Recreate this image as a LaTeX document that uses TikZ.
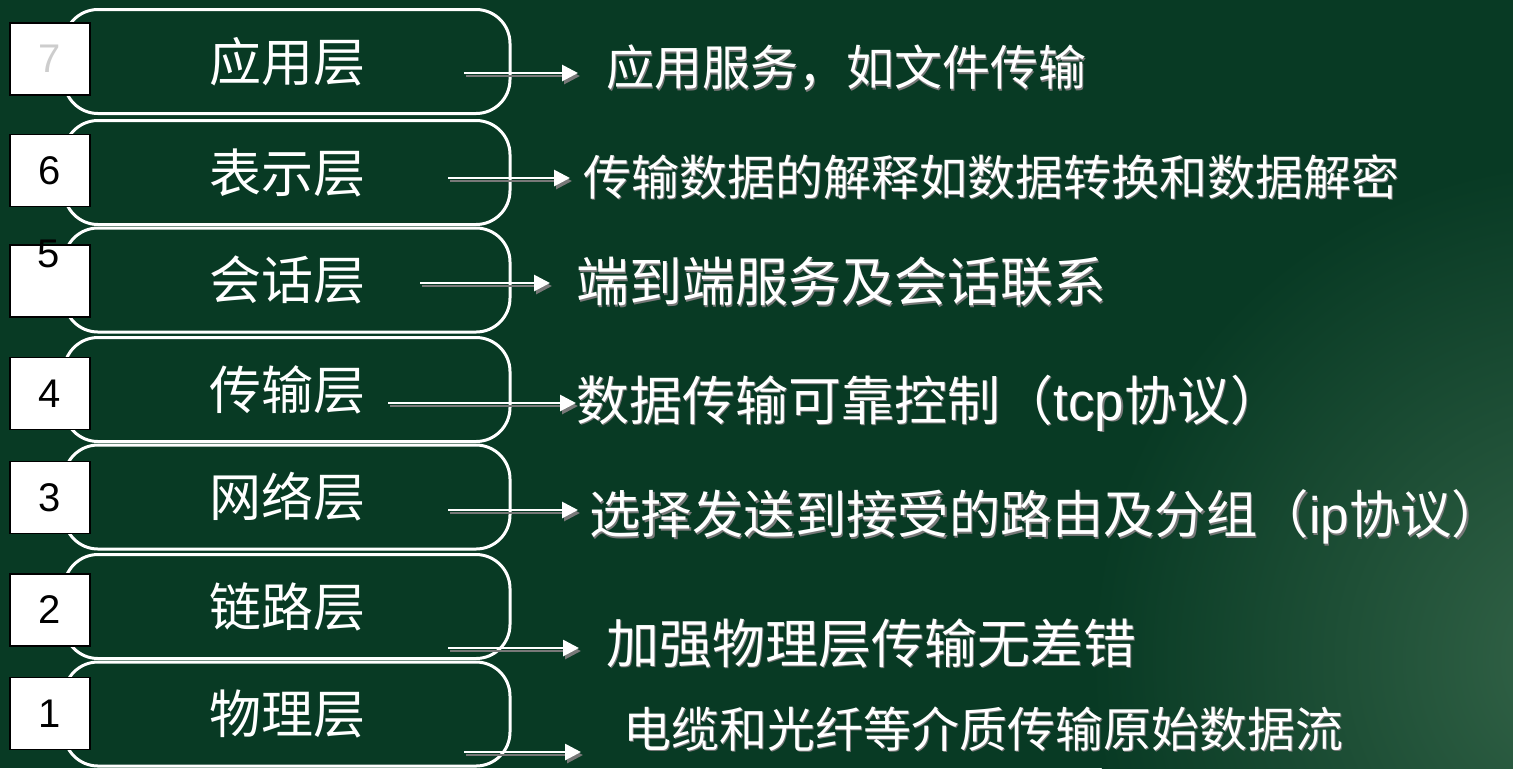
\documentclass[tikz,border=0pt]{standalone}
\usepackage{fontspec}
\setmainfont{Liberation Sans}
\newfontfamily\cjk{Noto Sans CJK SC}
\newfontfamily\lat{Liberation Sans}
\usetikzlibrary{arrows.meta}
\definecolor{bg}{RGB}{8,58,36}
\definecolor{bglight}{RGB}{52,100,72}
\definecolor{shadowgray}{RGB}{120,120,120}
\definecolor{seven}{RGB}{205,205,205}
\begin{document}
\begin{tikzpicture}[x=0.5pt,y=-0.5pt,
  layerbox/.style={draw=white,line width=1.5pt,rounded corners=17pt,
    minimum width=223pt,minimum height=52pt,inner sep=0pt,
    font=\cjk\fontsize{26}{30}\selectfont,text=white},
  numbox/.style={draw=black,line width=0.9pt,fill=white,minimum width=40pt,
    minimum height=36pt,inner sep=0pt,font=\lat\fontsize{20}{24}\selectfont,text=black},
  numtext/.style={inner sep=0pt,font=\lat\fontsize{20}{24}\selectfont,text=black},
  desc/.style={anchor=west,inner sep=0pt,text=white},
  descshadow/.style={anchor=west,inner sep=0pt,text=shadowgray},
  small/.style={font=\cjk\fontsize{24}{28}\selectfont},
  big/.style={font=\cjk\fontsize{26.5}{30}\selectfont},
  mid/.style={font=\cjk\fontsize{25.7}{30}\selectfont},
  arr/.style={draw=white,line width=1.4pt,-{Triangle[length=8pt,width=8pt]}},
  arrshadow/.style={draw=shadowgray,line width=1.4pt,-{Triangle[length=8pt,width=8pt]}}
]
% background
\fill[bg] (0,0) rectangle (1513,768);
\begin{scope}
  \clip (0,0) rectangle (1513,768);
  \shade[inner color=bglight,outer color=bg] (1590,660) circle (250pt);
\end{scope}
\useasboundingbox (0,0) rectangle (1513,768);

% layer boxes
\node[layerbox] (L7) at (287,61.5) {应用层};
\node[layerbox] (L6) at (287,172.5) {表示层};
\node[layerbox] (L5) at (287,280) {会话层};
\node[layerbox] (L4) at (287,389.5) {传输层};
\node[layerbox] (L3) at (287,497) {网络层};
\node[layerbox] (L2) at (287,606.5) {链路层};
\node[layerbox] (L1) at (287,714) {物理层};

% number boxes
\node[numbox,text=seven] (N7) at (50,59) {7};
\node[numbox] (N6) at (50,170.5) {6};
\node[numbox] (N5) at (50,281) {};
\node[numtext] (N5t) at (49,254) {5};
\node[numbox] (N4) at (50,393.5) {4};
\node[numbox] (N3) at (50,497.5) {3};
\node[numbox] (N2) at (50,610) {2};
\node[numbox] (N1) at (50,713.5) {1};

% descriptions (shadow + text)
\foreach \n/\x/\y/\sz/\t in {
  D7/606/68/small/{应用服务，如文件传输},
  D6/583/177/small/{传输数据的解释如数据转换和数据解密},
  D5/576/282/big/{端到端服务及会话联系},
  D4/576/403/big/{数据传输可靠控制（{\lat tcp}协议）},
  D3/589/517/mid/{选择发送到接受的路由及分组（{\lat ip}协议）},
  D2/606/643/big/{加强物理层传输无差错},
  D1/623/729/small/{电缆和光纤等介质传输原始数据流}}{
  \node[descshadow,\sz] at (\x+1.5,\y+1.5) {\t};
  \node[desc,\sz] (\n) at (\x,\y) {\t};
}

% arrow start and tip coordinates
\coordinate (s7) at (464,73);  \coordinate (e7) at (578,73);
\coordinate (s6) at (448,178); \coordinate (e6) at (570,178);
\coordinate (s5) at (420,283); \coordinate (e5) at (550,283);
\coordinate (s4) at (388,403); \coordinate (e4) at (576,403);
\coordinate (s3) at (448,510); \coordinate (e3) at (578,510);
\coordinate (s2) at (448,648); \coordinate (e2) at (579,648);
\coordinate (s1) at (464,752); \coordinate (e1) at (581,752);

\foreach \i in {7,6,5,4,3,2,1}{
  \draw[arrshadow] ([shift={(2,3)}]s\i) -- ([shift={(2,3)}]e\i);
  \draw[arr] (s\i) -- (e\i);
}
\end{tikzpicture}
\end{document}
